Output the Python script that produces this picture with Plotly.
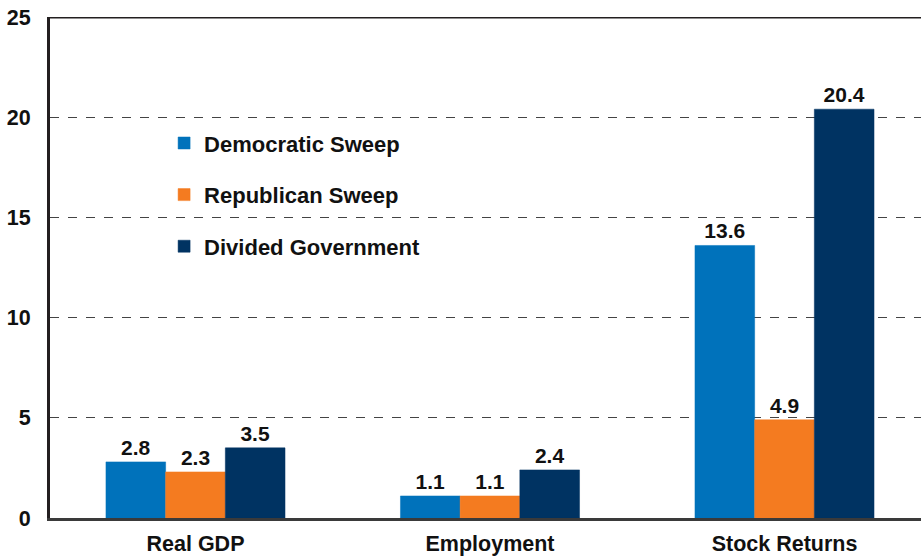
import plotly.graph_objects as go

categories = ["Real GDP", "Employment", "Stock Returns"]
series_names = ["Democratic Sweep", "Republican Sweep", "Divided Government"]
democratic = [2.8, 1.1, 13.6]
republican = [2.3, 1.1, 4.9]
divided = [3.5, 2.4, 20.4]
y_ticks = [0, 5, 10, 15, 20, 25]

colors = ["#0072bb", "#f47b20", "#003362"]
values = [democratic, republican, divided]

FONT = "Liberation Sans"

fig = go.Figure()
for i, (name, vals, col) in enumerate(zip(series_names, values, colors)):
    fig.add_trace(go.Bar(
        x=categories, y=vals, name=name,
        marker=dict(color=col, line=dict(color=col, width=0.5)),
        text=[f"{v:.1f}" for v in vals], textposition="outside",
        textfont=dict(family=FONT, size=21, color="#111111", weight="bold"),
        cliponaxis=False, legendgroup=f"g{i}",
    ))

fig.update_layout(
    width=921, height=556,
    margin=dict(l=50, r=0, t=17, b=38),
    paper_bgcolor="white", plot_bgcolor="white",
    barmode="group", bargap=0.392, bargroupgap=0,
    font=dict(family=FONT, size=21, color="#111111"),
    showlegend=True,
    legend=dict(x=0.131, y=0.79, xanchor="left", yanchor="top",
                traceorder="grouped", tracegroupgap=20,
                font=dict(family=FONT, size=22, color="#111111", weight="bold"),
                itemwidth=30, bgcolor="rgba(0,0,0,0)"),
)
fig.update_xaxes(range=[-0.494, 2.4635], showline=True, linecolor="#3a3a3a", linewidth=3,
                 ticks="", tickfont=dict(family=FONT, size=21.5, weight="bold"),
                 ticklabelstandoff=4, showgrid=False, automargin=False)
fig.update_yaxes(range=[0, 25], tickvals=y_ticks, showline=True, linecolor="#231f20",
                 linewidth=3, showgrid=True, gridcolor="#444444", griddash="dash",
                 gridwidth=1, ticks="", tickfont=dict(family=FONT, size=21.5, weight="bold"),
                 ticklabelstandoff=12, zeroline=False, automargin=False)
fig.add_shape(type="line", xref="paper", yref="y", x0=0, x1=1, y0=25, y1=25,
              line=dict(color="#231f20", width=3))
fig.write_html("out.html", config={"displayModeBar": False},
               post_script="document.body.style.margin='0';document.body.style.padding='0';document.body.style.overflow='hidden';")
